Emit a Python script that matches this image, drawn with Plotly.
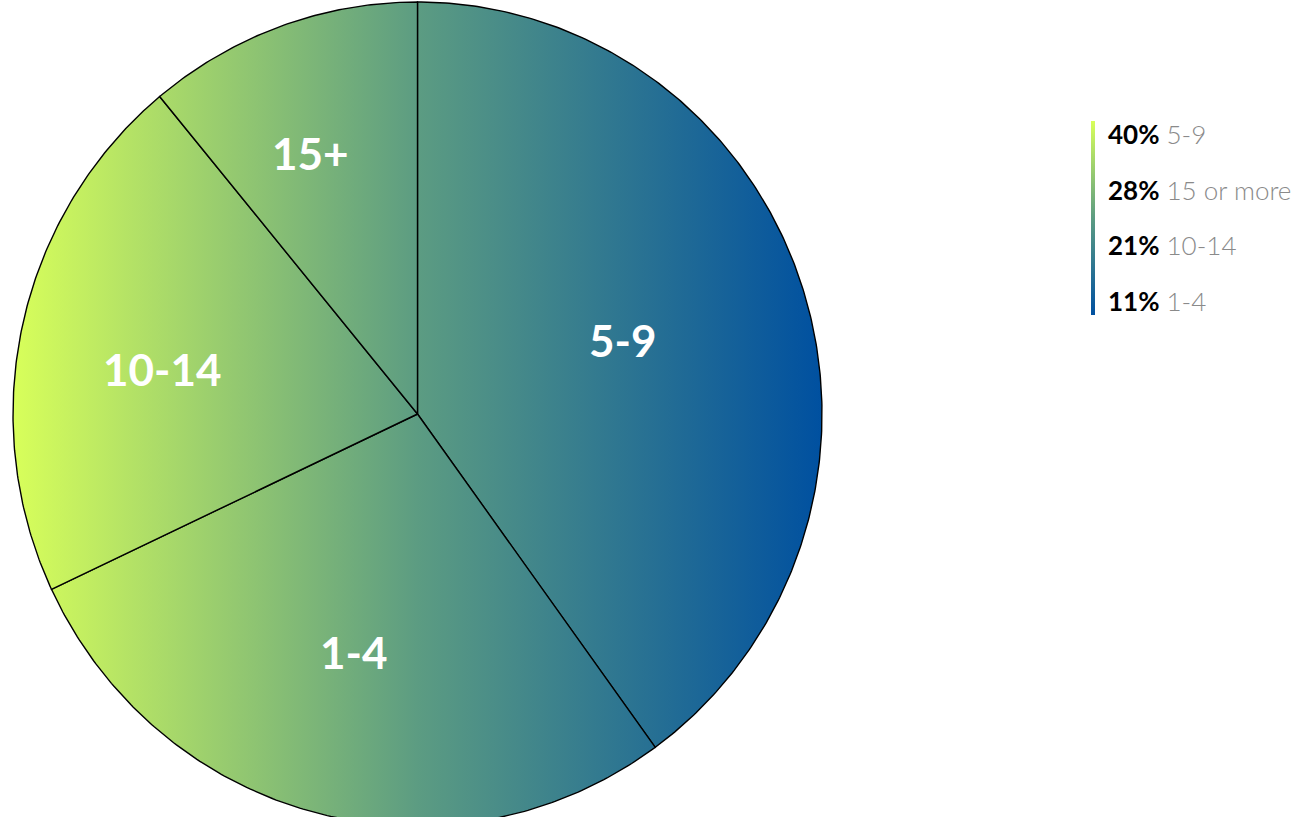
import numpy as np
import plotly.graph_objects as go

# ---- data ----
slice_labels = ["5-9", "1-4", "10-14", "15+"]
slice_values = [40, 28, 21, 11]

legend_pcts = ["40%", "28%", "21%", "11%"]
legend_names = ["5-9", "15 or more", "10-14", "1-4"]

# ---- style ----
grad = [[0.0, "#d8ff5a"], [0.5, "#5c9c82"], [1.0, "#0050a0"]]
W, H = 1298, 817
cx_px, cy_px = 417.5, 414.0
kx, ky = 404.5, 412.0  # px per unit
# label placement (radius fraction, angular nudge in degrees) per slice
label_r = [0.537, 0.599, 0.641, 0.686]
label_dang = [-1.6, 0.8, -2.8, -2.8]

fig = go.Figure()

total = float(sum(slice_values))
fracs = np.array(slice_values) / total
starts = np.concatenate([[0.0], np.cumsum(fracs)[:-1]])
for lab, f0, f, lr, da in zip(slice_labels, starts, fracs, label_r, label_dang):
    th = np.linspace(f0, f0 + f, max(int(f * 720), 8)) * 2 * np.pi
    xs = np.concatenate([[0.0], np.sin(th), [0.0]])
    ys = np.concatenate([[0.0], np.cos(th), [0.0]])
    fig.add_trace(go.Scatter(
        x=xs, y=ys, mode="lines", fill="toself",
        line=dict(color="black", width=1.4),
        fillgradient=dict(type="horizontal", colorscale=grad, start=-1, stop=1),
        hoverinfo="skip", showlegend=False))
    mid = (f0 + f / 2) * 2 * np.pi + np.deg2rad(da)
    fig.add_annotation(x=lr * np.sin(mid), y=lr * np.cos(mid), text=lab,
                       showarrow=False, xanchor="center", yanchor="middle",
                       font=dict(family="Lato", size=44, color="white", weight="bold"))

# legend gradient bar via colorbar
fig.add_trace(go.Scatter(
    x=[None], y=[None], mode="markers", showlegend=False, hoverinfo="skip",
    marker=dict(color=[0], cmin=0, cmax=1,
                colorscale=[[0, "#0050a0"], [0.5, "#5c9c82"], [1, "#d8ff5a"]],
                showscale=True,
                colorbar=dict(x=1091 / W, xanchor="left", xpad=0, ypad=0,
                              y=1 - 121 / H, yanchor="top",
                              len=194, lenmode="pixels", thickness=4,
                              outlinewidth=0, showticklabels=False, ticks=""))))

leg_y = [134, 190, 245, 301]
for p, n, yy in zip(legend_pcts, legend_names, leg_y):
    fig.add_annotation(xref="paper", yref="paper", x=1106 / W, y=1 - yy / H,
                       xanchor="left", yanchor="middle", showarrow=False,
                       text=f"<b>{p}</b> <span style='color:#8a8a8a'>{n}</span>",
                       font=dict(family="Lato", size=26, color="black", weight=300))

fig.update_layout(
    width=W, height=H, margin=dict(l=0, r=0, t=0, b=0),
    paper_bgcolor="white", plot_bgcolor="white",
    xaxis=dict(range=[-cx_px / kx, (W - cx_px) / kx], visible=False, fixedrange=True),
    yaxis=dict(range=[-(H - cy_px) / ky, cy_px / ky], visible=False, fixedrange=True),
)
fig.write_html("out.html")
